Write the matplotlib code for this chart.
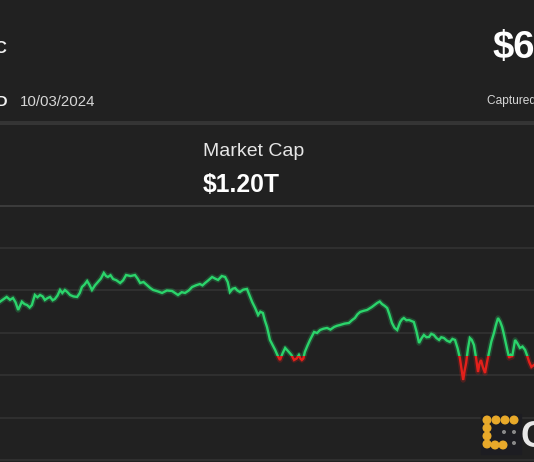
import matplotlib
matplotlib.use("Agg")
import matplotlib.pyplot as plt
from matplotlib.patches import Rectangle, Circle

plt.rcParams['font.family'] = ['Liberation Sans', 'DejaVu Sans']

# ---- data (time of day in minutes, price in USD) ----
minutes = [0, 10, 18, 27, 35, 42, 49, 59, 66, 73, 80, 86, 94, 101, 108, 115, 121,
           128, 135, 142, 148, 155, 162, 168, 175, 182, 189, 198, 208, 215,
           221, 228, 235, 242, 248, 256, 264, 272, 280, 286, 291, 298, 305, 314,
           324, 332, 340, 352, 364, 371, 378, 387, 396, 405, 413, 425, 437, 450,
           464, 472, 480, 490, 499, 509, 518, 528, 539, 546, 553, 562, 572, 580,
           588, 598, 607, 614, 620, 627, 634, 640, 647, 656, 666, 673, 680,
           688, 696, 702, 709, 714, 720, 728, 735, 742, 748, 755, 762, 769, 774, 779,
           786, 793, 800, 806, 810, 814, 818, 822, 829, 836, 842, 847, 855, 863,
           872, 882, 891, 901, 909, 917, 929, 941, 949, 957, 964, 971, 980, 990,
           997, 1003, 1010, 1017, 1024, 1030, 1037, 1044, 1050, 1057, 1064, 1071,
           1079, 1084, 1089, 1096, 1103, 1110, 1116, 1123, 1130, 1137, 1143, 1150,
           1157, 1163, 1170, 1177, 1184, 1190, 1197, 1205, 1213, 1220, 1227, 1234,
           1240, 1245, 1249, 1253, 1257, 1262, 1267, 1272, 1278, 1284, 1289, 1293,
           1297, 1302, 1308, 1313, 1319, 1325, 1332, 1337, 1343, 1349, 1354, 1358,
           1362, 1368, 1373, 1377, 1381, 1385, 1389, 1395, 1402, 1409, 1416, 1421,
           1427, 1433, 1440]
price = [61368, 61400, 61424, 61390, 61412, 61360, 61271, 61368, 61340, 61329,
         61300, 61329, 61447, 61420, 61447, 61430, 61388,
         61410, 61424, 61385, 61400, 61440, 61506, 61470, 61506, 61480, 61447,
         61430, 61424, 61470, 61541, 61570, 61612, 61560, 61506, 61560, 61600,
         61640, 61706, 61670, 61659, 61680, 61635, 61620, 61588, 61620, 61682,
         61670, 61682, 61640, 61588, 61600, 61565, 61530, 61506, 61490, 61471,
         61500, 61494, 61470, 61447, 61480, 61471, 61500, 61541, 61560, 61576,
         61560, 61588, 61620, 61659, 61640, 61624, 61670, 61659, 61600, 61482,
         61520, 61529, 61500, 61482, 61510, 61518, 61440, 61365,
         61294, 61212, 61250, 61235, 61150, 61071, 60918, 60860, 60800, 60740,
         60682, 60760, 60824, 60800, 60776, 60740, 60682, 60700, 60741, 60700,
         60682, 60700, 60776, 60850, 60918, 60970, 61012, 61000, 61035, 61050,
         61059, 61040, 61071, 61085, 61094, 61110, 61118, 61150, 61176, 61220,
         61247, 61260, 61271, 61290, 61306, 61330, 61353, 61370, 61341, 61320,
         61294, 61220, 61118, 61060, 61035, 61129, 61160, 61176, 61150, 61153,
         61140, 61129, 61020, 60882, 60940, 60976, 60950, 60953, 60990, 60976,
         60940, 60918, 60950, 60941, 60910, 60894, 60930, 60918, 60820, 60706,
         60560, 60447, 60560, 60647, 60820, 60941, 60920, 60859, 60700, 60541,
         60640, 60682, 60600, 60529, 60650, 60776, 60900, 61000, 61090, 61176,
         61130, 61071, 61000, 60918, 60800, 60706, 60740, 60718, 60820, 60918,
         60880, 60824, 60840, 60800, 60740, 60659, 60600, 60624]
open_price = 60730
grid_levels = [59500, 60000, 60500, 61000, 61500, 62000]
y_limits = (59482, 62494)
x_limits = (0, 1440)

ticker = "BTC"
currency = "USD"
date_label = "10/03/2024"
price_label = "$60,624"
captured_label = "Captured at"
mc_title = "Market Cap"
mc_value = "$1.20T"

W, H = 534, 462
bg = '#212121'
fig = plt.figure(figsize=(W / 100, H / 100), dpi=100)
fig.patch.set_facecolor(bg)


def px_rect(x0, y0, x1, y1):
    return [x0 / W, 1 - y1 / H, (x1 - x0) / W, (y1 - y0) / H]


ax = fig.add_axes(px_rect(0, 206, 534, 462))
ax.set_facecolor(bg)
ax.set_xlim(*x_limits)
ax.set_ylim(*y_limits)
for s in ax.spines.values():
    s.set_visible(False)
ax.set_xticks([])
ax.set_yticks(grid_levels)
ax.tick_params(length=0, labelleft=False)
ax.grid(axis='y', color='#313131', lw=1.3)
ax.set_axisbelow(True)

green = '#2bd46b'
red = '#e3201b'
up_clip = Rectangle((x_limits[0] - 100, open_price), 2000, 10000, transform=ax.transData)
dn_clip = Rectangle((x_limits[0] - 100, open_price - 10000), 2000, 10000, transform=ax.transData)
for col, clip in ((green, up_clip), (red, dn_clip)):
    glow, = ax.plot(minutes, price, color=col, lw=4.0, alpha=0.22, solid_joinstyle='round')
    ln, = ax.plot(minutes, price, color=col, lw=1.7, solid_joinstyle='miter')
    glow.set_clip_path(clip)
    ln.set_clip_path(clip)

# ---- overlay for header / decorations in pixel coordinates ----
ov = fig.add_axes([0, 0, 1, 1])
ov.set_xlim(0, W)
ov.set_ylim(H, 0)
ov.axis('off')
ov.patch.set_alpha(0)

ov.plot([0, W], [121.6, 121.6], color='#383838', lw=1.2)
ov.plot([0, W], [124.4, 124.4], color='#3a3a3a', lw=1.2)
ov.plot([0, W], [205.8, 205.8], color='#3c3c3c', lw=1.4)

ov.text(8, 53, ticker, ha='right', va='baseline', fontsize=12,
        fontweight='bold', color='#f2f2f2')
ov.text(7.5, 106, currency, ha='right', va='baseline', fontsize=10.8,
        fontweight='bold', color='#f2f2f2')
ov.text(20, 106, date_label, ha='left', va='baseline', fontsize=10.8, color='#d6d6d6')
ov.text(492, 58, price_label, ha='left', va='baseline', fontsize=27.5,
        fontweight='bold', color='#ffffff')
ov.text(487, 104, captured_label, ha='left', va='baseline', fontsize=8.6, color='#d6d6d6')
ov.text(203, 155.7, mc_title, ha='left', va='baseline', fontsize=14, color='#e6e6e6')
ov.text(203, 191.7, mc_value, ha='left', va='baseline', fontsize=17.8,
        fontweight='bold', color='#ffffff')

# logo
ov.add_patch(Rectangle((481, 414), 40, 40, color='#1d1d22', zorder=3))
gold = '#e8a92a'
dots = [(487, 420), (496, 420), (505, 420), (514, 420),
        (487, 428), (487, 436), (487, 444), (495, 445), (503, 445)]
for (dx, dy) in dots:
    ov.add_patch(Circle((dx, dy), 3.8, color=gold, zorder=4))
for (dx, dy) in [(504, 432), (514, 432), (514, 443)]:
    ov.add_patch(Circle((dx, dy), 1.3, color='#8a8a8a', zorder=4))
ov.text(520, 447, "C", ha='left', va='baseline', fontsize=26, fontweight='bold',
        color='#e8e8e8', zorder=4)

fig.savefig('out.png', dpi=100, facecolor=bg)
